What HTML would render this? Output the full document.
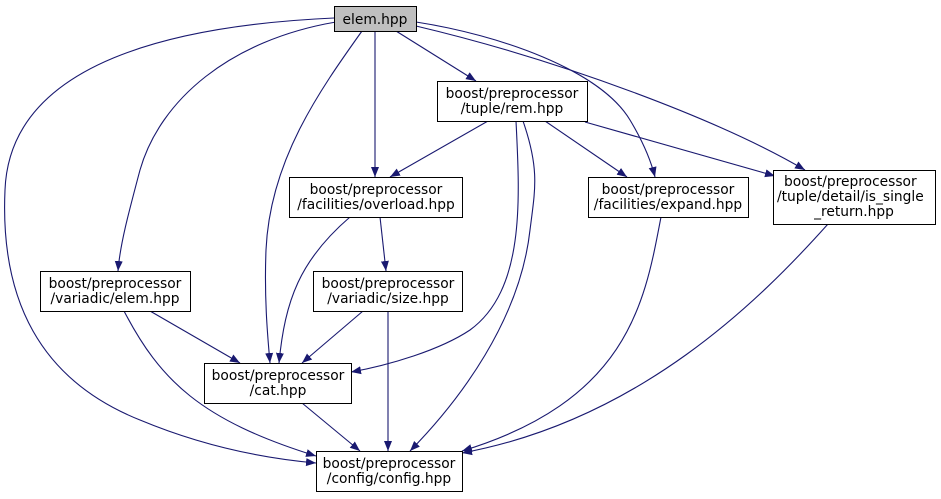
<!DOCTYPE html>
<html><head><meta charset="utf-8"><style>
html,body{margin:0;padding:0;background:#fff}
svg{display:block}
text{font-family:"DejaVu Sans","Liberation Sans",sans-serif;font-size:13.8px;fill:#000}
</style></head><body>
<svg width="941" height="499" viewBox="0 0 941 499" xmlns="http://www.w3.org/2000/svg">
<defs><marker id="a" viewBox="0 0 10 10" refX="10" refY="5" markerWidth="10" markerHeight="10" markerUnits="userSpaceOnUse" orient="auto"><path d="M0,1 L10,5 L0,9 Z" fill="#191970"/></marker></defs>
<g fill="none" stroke="#191970" stroke-width="1.1" marker-end="url(#a)">
<path d="M396,31 L476,81"/>
<path d="M375,31 L375,177"/>
<path d="M362,31 C320,90 270,160 266,250 C264,300 268,340 270,363"/>
<path d="M336,22 C230,40 160,100 140,170 C128,215 120,245 118,271"/>
<path d="M334,18 C180,25 10,60 5,190 C0,300 40,380 140,420 C200,445 260,458 316,463"/>
<path d="M416,22 C500,35 600,70 630,120 C645,145 652,165 655,177"/>
<path d="M416,26 C560,60 720,120 805,170"/>
<path d="M488,121 L390,177"/>
<path d="M545,121 L627,177"/>
<path d="M585,122 L775,176"/>
<path d="M516,121 C520,200 525,290 470,330 C440,350 390,365 351,372"/>
<path d="M523,121 C540,170 535,190 530,230 C520,320 460,400 410,451"/>
<path d="M350,217 C300,260 285,300 279,363"/>
<path d="M380,217 L386,271"/>
<path d="M363,311 L302,363"/>
<path d="M388,311 L388,451"/>
<path d="M150,311 L240,363"/>
<path d="M124,311 C160,380 200,420 316,456"/>
<path d="M302,403 L360,451"/>
<path d="M661,217 C645,300 630,400 462,451"/>
<path d="M828,224 C760,300 640,420 462,453"/>
</g>
<g stroke="#000" stroke-width="1" fill="#fff">
<rect x="334.5" y="6.5" width="82" height="25" fill="#bfbfbf"/>
<rect x="437.5" y="81.5" width="150" height="40"/>
<rect x="289.5" y="177.5" width="173" height="40"/>
<rect x="588.5" y="177.5" width="160" height="40"/>
<rect x="773.5" y="170.5" width="162" height="54"/>
<rect x="40.5" y="271.5" width="150" height="40"/>
<rect x="313.5" y="271.5" width="149" height="40"/>
<rect x="204.5" y="363.5" width="147" height="40"/>
<rect x="316.5" y="451.5" width="146" height="40"/>
</g>
<g text-anchor="middle">
<text x="375" y="24">elem.hpp</text>
<text x="512" y="98">boost/preprocessor</text><text x="512" y="113">/tuple/rem.hpp</text>
<text x="376" y="194">boost/preprocessor</text><text x="376" y="209">/facilities/overload.hpp</text>
<text x="668" y="194">boost/preprocessor</text><text x="668" y="209">/facilities/expand.hpp</text>
<text x="115" y="288">boost/preprocessor</text><text x="115" y="303">/variadic/elem.hpp</text>
<text x="388" y="288">boost/preprocessor</text><text x="388" y="303">/variadic/size.hpp</text>
<text x="278" y="380">boost/preprocessor</text><text x="278" y="395">/cat.hpp</text>
<text x="389" y="468">boost/preprocessor</text><text x="389" y="483">/config/config.hpp</text>
<text x="854" y="216">_return.hpp</text>
</g>
<text x="784" y="186">boost/preprocessor</text>
<text x="777" y="201">/tuple/detail/is_single</text>
</svg>
</body></html>
